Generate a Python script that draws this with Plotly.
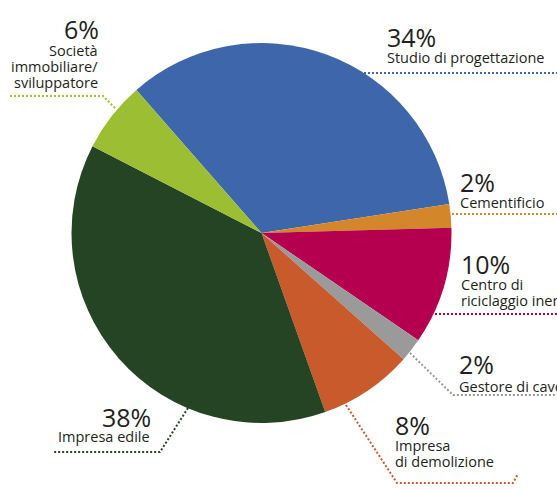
import plotly.graph_objects as go

W, H = 557, 489

# ---- data ----
categories = ["Studio di progettazione", "Cementificio", "Centro di riciclaggio inerti",
              "Gestore di cave", "Impresa di demolizione", "Impresa edile",
              "Società immobiliare/sviluppatore"]
values = [34, 2, 10, 2, 8, 38, 6]
pct_labels = ["34%", "2%", "10%", "2%", "8%", "38%", "6%"]
label_lines = [["Studio di progettazione"], ["Cementificio"], ["Centro di", "riciclaggio inerti"],
               ["Gestore di cave"], ["Impresa", "di demolizione"], ["Impresa edile"],
               ["Società", "immobiliare/", "sviluppatore"]]
colors = ["#3e67ab", "#d4862a", "#b4004e", "#9a9a9a", "#c85a2c", "#244423", "#9cbe33"]

# ---- layout helpers (pixel -> paper) ----
def px(x):
    return x / W

def py(y):
    return 1 - y / H

# label layout: (x, anchor, pct centre y, first line centre y)
label_pos = [
    (386, "left", 37, 57),
    (459, "left", 182, 202),
    (460, "left", 264, 284),
    (458, "left", 364, 386),
    (394, "left", 425, 445),
    (152, "right", 416.5, 436),
    (100, "right", 29, 50),
]
line_gap = 16

leaders = [
    [(364, 73), (560, 73)],
    [(452, 214), (560, 214)],
    [(435, 314), (560, 314)],
    [(410, 353), (453, 395), (560, 395)],
    [(346, 405), (397, 483), (513, 483), (518, 474)],
    [(188, 408), (160, 452), (53, 452)],
    [(115, 108), (103, 96), (10, 96)],
]

fig = go.Figure(go.Pie(
    labels=categories,
    values=values,
    marker=dict(colors=colors, line=dict(width=0)),
    sort=False,
    direction="clockwise",
    rotation=-41.2,
    textinfo="none",
    hoverinfo="label+percent",
    domain=dict(x=[px(71), px(452)], y=[py(423), py(43)]),
))

annotations = []
shapes = []
txt_color = "#231f20"
for i in range(len(values)):
    x, anchor, ypct, yl = label_pos[i]
    annotations.append(dict(
        x=px(x), y=py(ypct), xref="paper", yref="paper",
        text=pct_labels[i], showarrow=False, xanchor=anchor, yanchor="middle",
        borderpad=0,
        font=dict(family="Open Sans", size=25, color=txt_color)))
    for j, ln in enumerate(label_lines[i]):
        annotations.append(dict(
            x=px(x - 1 if anchor == "right" else x), y=py(yl + j * line_gap),
            xref="paper", yref="paper", borderpad=0,
            text=ln, showarrow=False, xanchor=anchor, yanchor="middle",
            font=dict(family="Open Sans", size=14.5, color=txt_color)))
    pts = leaders[i]
    path = "M " + " L ".join(f"{px(a):.5f},{py(b):.5f}" for a, b in pts)
    shapes.append(dict(type="path", xref="paper", yref="paper", path=path,
                       line=dict(color=colors[i], width=2, dash="2px,2px")))

fig.update_layout(
    width=W, height=H,
    margin=dict(l=0, r=0, t=0, b=0),
    paper_bgcolor="white", plot_bgcolor="white",
    showlegend=False,
    annotations=annotations,
    shapes=shapes,
)

fig.write_html("out.html",
               config={"displayModeBar": False},
               post_script="document.body.style.margin='0';document.body.style.overflow='hidden';")
